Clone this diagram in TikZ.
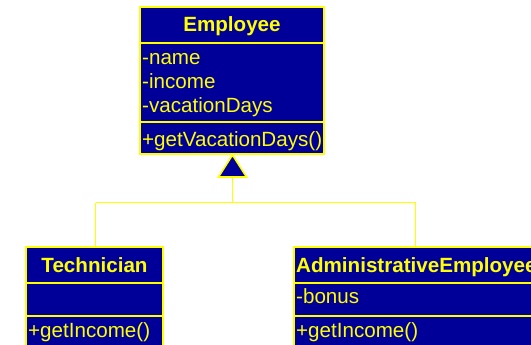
\documentclass[tikz,border=0pt]{standalone}
\usepackage{fontspec}
\setmainfont{Liberation Sans}
\definecolor{navy}{RGB}{0,0,153}
\definecolor{umlyellow}{RGB}{255,255,0}
\begin{document}
\begin{tikzpicture}[x=1pt,y=-1pt,
  classbox/.style={draw=umlyellow,fill=navy,line width=1.6pt,anchor=north west,inner sep=0pt,outer sep=0pt},
  sep/.style={draw=umlyellow,line width=1.6pt},
  txt/.style={text=umlyellow,font=\fontsize{20.6}{24}\selectfont,anchor=base west,inner sep=0pt},
  ttl/.style={txt,font=\fontsize{20.6}{24}\selectfont\bfseries},
  conn/.style={draw=umlyellow,line width=1.3pt}]
\useasboundingbox (0,0) rectangle (531,345);
\clip (0,0) rectangle (531,345);
% Employee
\node[classbox,minimum width=184pt,minimum height=147pt] (emp) at (140,7) {};
\draw[sep] (140,43) -- (324,43);
\draw[sep] (140,122) -- (324,122);
\node[ttl,anchor=base] (empT) at (232,32) {Employee};
\node[txt] (empA1) at (142,64.5) {-name};
\node[txt] (empA2) at (142,88.5) {-income};
\node[txt] (empA3) at (142,112.5) {-vacationDays};
\node[txt] (empM1) at (142,146.5) {+getVacationDays()};
% Technician
\node[classbox,minimum width=137pt,minimum height=120pt] (tech) at (26,247) {};
\draw[sep] (26,283) -- (163,283);
\draw[sep] (26,316) -- (163,316);
\node[ttl,anchor=base] (techT) at (94.5,272) {Technician};
\node[txt] (techM1) at (28,337) {+getIncome()};
% AdministrativeEmployee
\node[classbox,minimum width=260pt,minimum height=120pt] (adm) at (294,247) {};
\draw[sep] (294,283) -- (554,283);
\draw[sep] (294,316) -- (554,316);
\node[ttl] (admT) at (296,272) {AdministrativeEmployee};
\node[txt] (admA1) at (296,303.5) {-bonus};
\node[txt] (admM1) at (296,337) {+getIncome()};
% generalization
\coordinate (apex) at (232.5,155);
\coordinate (base) at (232.5,177);
\coordinate (junc) at (232.5,202.5);
\coordinate (lt) at (95.5,202.5);
\coordinate (rt) at (415.5,202.5);
\draw[conn] (base) -- (junc);
\draw[conn] (lt) -- (rt);
\draw[conn] (lt) -- (lt |- tech.north);
\draw[conn] (rt) -- (rt |- adm.north);
\draw[draw=umlyellow,fill=navy,line width=1.6pt,line join=miter] (apex) -- (218.5,177) -- (246.5,177) -- cycle;
\end{tikzpicture}
\end{document}
